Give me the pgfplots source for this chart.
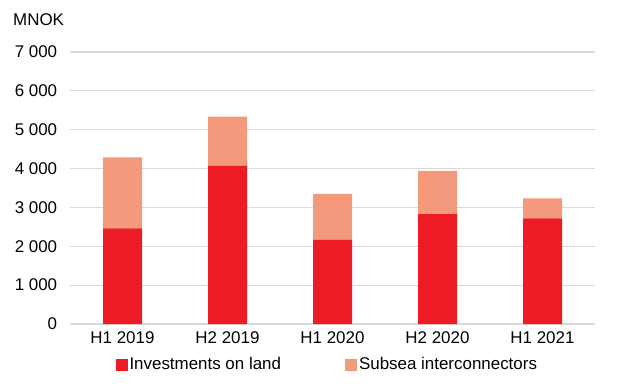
\documentclass[border=0pt]{standalone}
\usepackage{pgfplots}
\pgfplotsset{compat=1.18}
\usepackage{fontspec}
\setmainfont{Liberation Sans}
\definecolor{landred}{HTML}{ED1C24}
\definecolor{subsea}{HTML}{F4997B}
\definecolor{gridgray}{HTML}{D9D9D9}
\begin{document}
\fontsize{17}{20}\selectfont
\begin{tikzpicture}[x=1bp,y=1bp]
\useasboundingbox (0,0) rectangle (637,383);
\node[anchor=west, inner sep=0pt] at (13,383-19.5) {MNOK};
\begin{axis}[
  at={(70bp,59bp)}, anchor=south west,
  scale only axis, width=525bp, height=272bp,
  ybar stacked, bar width=39bp,
  xmin=-0.5, xmax=4.5, ymin=0, ymax=7000,
  xtick={0,1,2,3,4},
  xticklabels={H1 2019,H2 2019,H1 2020,H2 2020,H1 2021},
  ytick={0,1000,...,7000},
  yticklabels={0,1 000,2 000,3 000,4 000,5 000,6 000,7 000},
  axis line style={draw=none},
  tick style={draw=none},
  ymajorgrids, major grid style={gridgray, line width=1.2bp},
  yticklabel style={xshift=-7bp, anchor=east, font=\fontsize{17}{20}\selectfont},
  xticklabel style={yshift=-2bp, font=\fontsize{17}{20}\selectfont},
  /pgf/number format/assume math mode=true,
  legend style={at={(0.49,-0.15)}, anchor=center, draw=none, fill=none,
    legend columns=2, font=\fontsize{17}{20}\selectfont,
    /tikz/every even column/.append style={column sep=62bp},
    inner sep=0pt},
  legend cell align=left,
  legend image code/.code={\fill[#1] (0bp,-6bp) rectangle (12bp,6bp);},
]
\addplot[fill=landred, draw=none] coordinates {(0,2460) (1,4070) (2,2170) (3,2830) (4,2720)};
\addplot[fill=subsea, draw=none] coordinates {(0,1830) (1,1270) (2,1180) (3,1110) (4,510)};
\legend{Investments on land, Subsea interconnectors}
\end{axis}
\end{tikzpicture}
\end{document}
